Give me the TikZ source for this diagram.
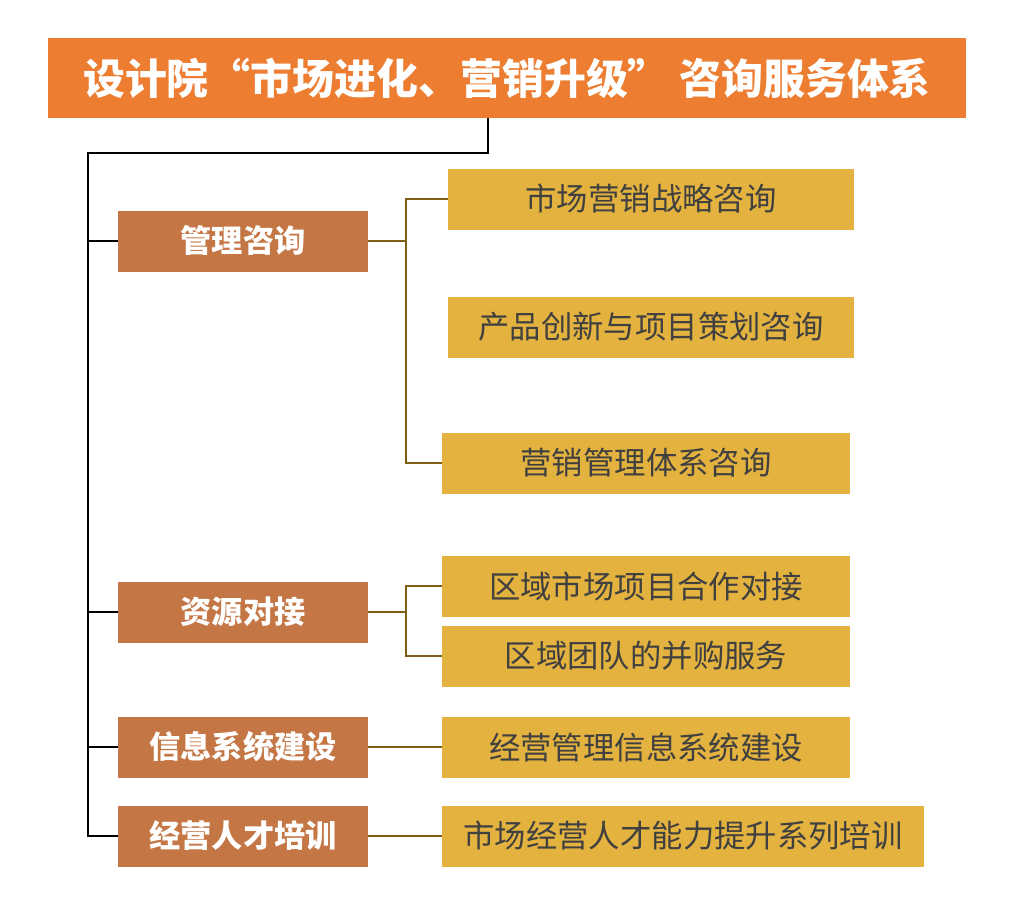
\documentclass[tikz,border=0pt]{standalone}
\usepackage{fontspec}
\setmainfont{Noto Sans CJK SC}
\usetikzlibrary{calc}
\definecolor{titleorange}{HTML}{ED7D31}
\definecolor{catbrown}{HTML}{C47645}
\definecolor{leafgold}{HTML}{E3B23F}
\definecolor{linkbrown}{HTML}{7F5E12}
\definecolor{leaftext}{HTML}{404040}
\tikzset{
  titlebox/.style={fill=titleorange,text=white,font=\fontsize{29.8}{31}\selectfont\bfseries,
    minimum width=918*0.025cm,minimum height=80*0.025cm,inner sep=0pt},
  catbox/.style={fill=catbrown,text=white,font=\fontsize{22.2}{24}\selectfont\bfseries,
    minimum width=250*0.025cm,minimum height=61*0.025cm,inner sep=0pt},
  leafbox/.style={fill=leafgold,text=leaftext,font=\fontsize{22.3}{24}\selectfont,
    minimum height=61*0.025cm,inner sep=0pt},
  trunk/.style={black,line width=1.4pt},
  branch/.style={linkbrown,line width=1.4pt}
}
\begin{document}
\begin{tikzpicture}[x=0.025cm,y=-0.025cm]
\useasboundingbox (0,0) rectangle (1018,896);
% title
\node[titlebox] (title) at (507,78) {设计院“市场进化、营销升级” 咨询服务体系};
% categories
\node[catbox] (mgmt) at (243,241) {管理咨询};
\node[catbox] (res) at (243,612) {资源对接};
\node[catbox] (info) at (243,747) {信息系统建设};
\node[catbox] (train) at (243,836) {经营人才培训};
% leaves
\node[leafbox,minimum width=406*0.025cm] (strat) at (651,199) {市场营销战略咨询};
\node[leafbox,minimum width=406*0.025cm] (prod) at (651,327) {产品创新与项目策划咨询};
\node[leafbox,minimum width=408*0.025cm] (sys) at (646,463) {营销管理体系咨询};
\node[leafbox,minimum width=408*0.025cm] (coop) at (646,586) {区域市场项目合作对接};
\node[leafbox,minimum width=408*0.025cm] (merge) at (646,656) {区域团队的并购服务};
\node[leafbox,minimum width=408*0.025cm] (erp) at (646,747) {经营管理信息系统建设};
\node[leafbox,minimum width=482*0.025cm] (talent) at (683,836) {市场经营人才能力提升系列培训};
% trunk
\coordinate (elbow) at (488,153);
\coordinate (corner) at (88,153);
\coordinate (fork) at (406,0);
\draw[trunk] (title.south -| elbow) -- (elbow) -- (corner) |- (train.west);
\draw[trunk] (corner |- mgmt) -- (mgmt.west);
\draw[trunk] (corner |- res) -- (res.west);
\draw[trunk] (corner |- info) -- (info.west);
% branches
\draw[branch] (mgmt.east) -- (mgmt.east -| fork) |- (strat.west);
\draw[branch] (mgmt.east -| fork) |- (sys.west);
\draw[branch] (res.east) -- (res.east -| fork) |- (coop.west);
\draw[branch] (res.east -| fork) |- (merge.west);
\draw[branch] (info.east) -- (erp.west);
\draw[branch] (train.east) -- (talent.west);
\end{tikzpicture}
\end{document}
